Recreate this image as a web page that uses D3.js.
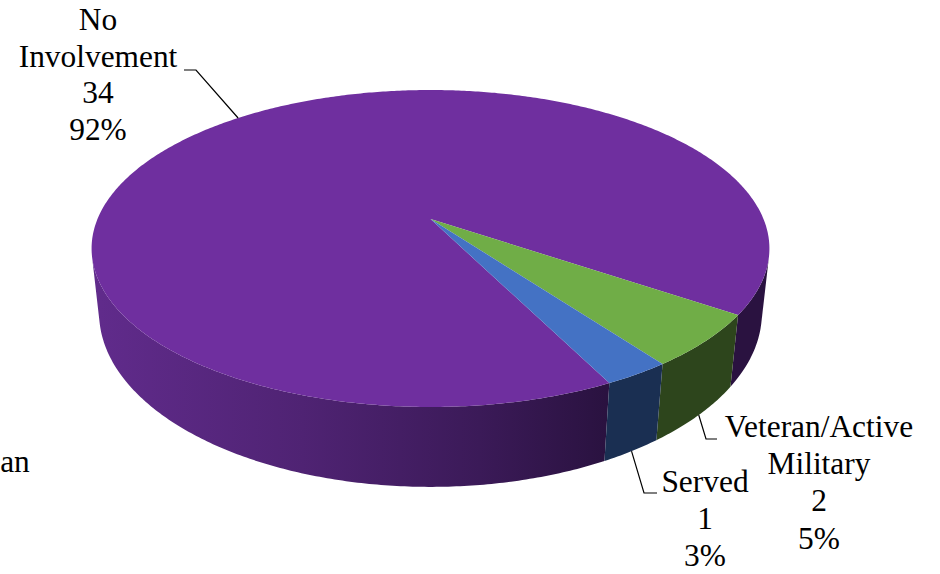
<!DOCTYPE html>
<html>
<head>
  <title>Involvement pie</title>
  <style type="text/css">
    html, body { margin: 0; padding: 0; background: #fff; overflow: hidden; }
    svg { display: block; }
    text { font-family: "Liberation Serif", serif; font-size: 31.4px; fill: #000; text-anchor: middle; }
    .leader { fill: none; stroke: #000; stroke-width: 1.2; }
  </style>
</head>
<body>

<div id="chart"></div>

<script src="https://d3js.org/d3.v7.min.js"></script>
<script type="text/javascript">
var categories = ["No Involvement", "Veteran/Active Military", "Served"];
var counts = [34, 2, 1];
var labelLines = [["No", "Involvement"], ["Veteran/Active", "Military"], ["Served"]];
var topColors = ["#6f2f9f", "#70ad47", "#4472c4"];
var wallColors = ["url(#wallPurple)", "#2d451c", "#1a2f52"];

var width = 940, height = 574;
var total = d3.sum(counts);
var pct = d3.format(".0%");

// perspective: top and bottom rim of the disc are separate projections
var topRim = { sx: 333, sy: 153, y0: 219, k: 0.186 };
var bottomRim = { sx: 326, sy: 168.5, y0: 281.4, k: 0.18 };
var cx = 430.5;

function project(a, p) {
  // a is a d3.pie angle: 0 at the back, clockwise
  var u = Math.sin(a), v = -Math.cos(a), w = 1 - p.k * v;
  return [cx + p.sx * u / w, p.y0 + p.sy * v / w];
}

function rim(a0, a1, p) {
  var n = Math.ceil(Math.abs(a1 - a0) / 0.01);
  return d3.range(n + 1).map(function (i) { return project(a0 + (a1 - a0) * i / n, p); });
}

// side of one slice as small quads, keeping only those facing the viewer
function wall(d) {
  var t = rim(d.startAngle, d.endAngle, topRim);
  var b = rim(d.startAngle, d.endAngle, bottomRim);
  return d3.range(t.length - 1).map(function (i) {
    return [t[i], t[i + 1], b[i + 1], b[i]];
  }).filter(function (q) {
    return d3.polygonArea(q) > 0;
  }).map(function (q) {
    return line(q) + "Z";
  }).join("");
}

var pie = d3.pie().sort(null)
  .startAngle(153.4 * Math.PI / 180)
  .endAngle(153.4 * Math.PI / 180 + 2 * Math.PI);
var slices = pie(counts);
var line = d3.line();

var svg = d3.select("#chart")
  .append("svg")
  .attr("width", width)
  .attr("height", height);

var grad = svg.append("defs").append("linearGradient")
  .attr("id", "wallPurple")
  .attr("gradientUnits", "userSpaceOnUse")
  .attr("x1", 100).attr("x2", 606).attr("y1", 0).attr("y2", 0);
[[0, "#602b8b"], [0.4, "#4f2373"], [0.75, "#3b1a58"], [1, "#2a1240"]].forEach(function (s) {
  grad.append("stop").attr("offset", s[0]).attr("stop-color", s[1]);
});

svg.append("g").selectAll("path")
  .data(slices)
  .enter().append("path")
    .attr("fill", function (d, i) { return wallColors[i]; })
    .attr("d", wall);

svg.append("g").selectAll("path")
  .data(slices)
  .enter().append("path")
    .attr("fill", function (d, i) { return topColors[i]; })
    .attr("d", function (d) {
      return line([[cx, topRim.y0]].concat(rim(d.startAngle, d.endAngle, topRim))) + "Z";
    });

// label placement, one per slice: text centre, first baseline, leader elbow and end
var labelPos = [
  { x: 98, y: 30, elbow: [196, 70], end: [184, 70], rim: topRim, dy: 36.6 },
  { x: 819, y: 437, elbow: [706, 439], end: [717, 439], rim: bottomRim, dy: 37.2 },
  { x: 705, y: 492, elbow: [644, 493], end: [657, 493], rim: bottomRim, dy: 37.2 }
];

slices.forEach(function (d, i) {
  var pos = labelPos[i];
  var mid = (d.startAngle + d.endAngle) / 2;
  svg.append("path")
    .attr("class", "leader")
    .attr("d", line([project(mid, pos.rim), pos.elbow, pos.end]));
  var lines = labelLines[i].concat([String(counts[i]), pct(counts[i] / total)]);
  svg.append("text").selectAll("tspan")
    .data(lines)
    .enter().append("tspan")
      .attr("x", pos.x)
      .attr("y", function (t, j) { return pos.y + j * pos.dy; })
      .text(function (t) { return t; });
});

// tail of a label that the left edge cuts off in the source image
svg.append("text")
  .attr("x", 29.8).attr("y", 472)
  .style("text-anchor", "end")
  .text("an");
</script>
</body>
</html>
